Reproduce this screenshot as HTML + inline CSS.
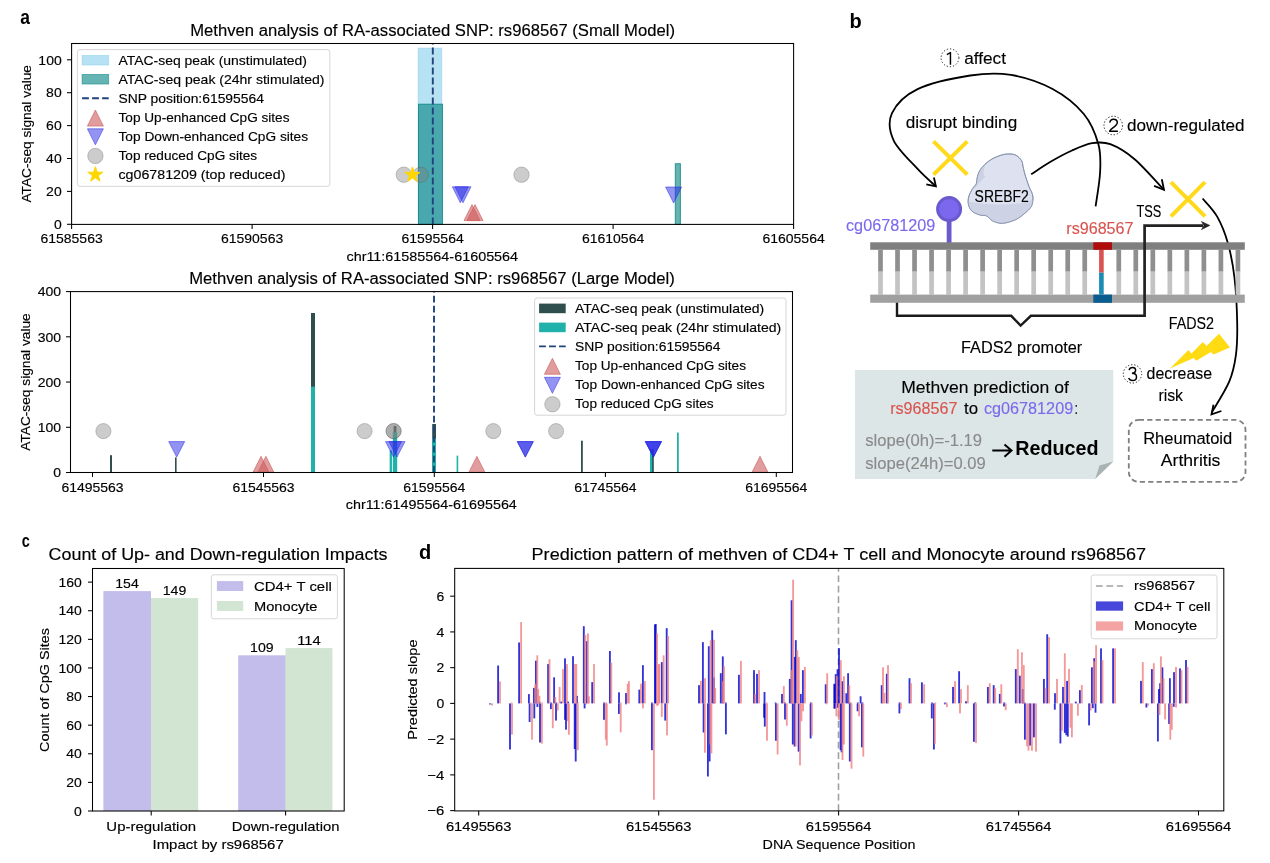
<!DOCTYPE html><html><head><meta charset="utf-8"><style>html,body{margin:0;padding:0;background:#fff;}svg{display:block;}text{font-family:"Liberation Sans",sans-serif;} svg{will-change:transform;}</style></head><body>
<svg width="1270" height="863" viewBox="0 0 1270 863">
<rect x="0" y="0" width="1270" height="863" fill="#fff"/>
<text x="20.20" y="23.60" font-size="20" textLength="9.70" lengthAdjust="spacingAndGlyphs" font-weight="bold" >a</text>
<text x="432.60" y="36.10" font-size="16" stroke="#000" stroke-width="0.15" text-anchor="middle" textLength="484.80" lengthAdjust="spacingAndGlyphs" >Methven analysis of RA-associated SNP: rs968567 (Small Model)</text>
<rect x="418.10" y="48.10" width="23.70" height="176.30" fill="rgba(135,206,235,0.6)" stroke="rgba(135,206,235,0.6)" stroke-width="0.8"/>
<rect x="418.50" y="104.20" width="24.00" height="120.20" fill="rgba(0,128,128,0.6)" stroke="rgba(0,128,128,0.75)" stroke-width="1"/>
<rect x="675.30" y="163.70" width="5.10" height="60.70" fill="rgba(0,128,128,0.6)" stroke="rgba(0,128,128,0.75)" stroke-width="1"/>
<line x1="432.80" y1="224.40" x2="432.80" y2="43.50" stroke="#22427c" stroke-width="1.9" stroke-dasharray="6.8 3.2"/>
<circle cx="403.80" cy="174.70" r="7.70" fill="rgba(128,128,128,0.4)" stroke="rgba(90,90,90,0.4)" stroke-width="0.8"/>
<circle cx="420.70" cy="174.70" r="7.70" fill="rgba(128,128,128,0.4)" stroke="rgba(90,90,90,0.4)" stroke-width="0.8"/>
<circle cx="521.50" cy="174.70" r="7.70" fill="rgba(128,128,128,0.4)" stroke="rgba(90,90,90,0.4)" stroke-width="0.8"/>
<polygon points="412.40,166.90 414.20,172.43 420.01,172.43 415.31,175.84 417.10,181.37 412.40,177.96 407.70,181.37 409.49,175.84 404.79,172.43 410.60,172.43" fill="#ffd700" stroke="#ffd700" stroke-width="1" stroke-linejoin="miter"/>
<polygon points="452.30,186.80 468.30,186.80 460.30,202.80" fill="rgba(40,40,230,0.5)" stroke="rgba(40,40,230,0.5)" stroke-width="1"/>
<polygon points="455.00,186.80 471.00,186.80 463.00,202.80" fill="rgba(40,40,230,0.5)" stroke="rgba(40,40,230,0.5)" stroke-width="1"/>
<polygon points="665.60,187.00 681.60,187.00 673.60,203.00" fill="rgba(40,40,230,0.5)" stroke="rgba(40,40,230,0.5)" stroke-width="1"/>
<polygon points="472.00,204.60 464.00,220.60 480.00,220.60" fill="rgba(205,92,92,0.6)" stroke="rgba(205,92,92,0.6)" stroke-width="1"/>
<polygon points="475.00,204.60 467.00,220.60 483.00,220.60" fill="rgba(205,92,92,0.6)" stroke="rgba(205,92,92,0.6)" stroke-width="1"/>
<rect x="71.6" y="43.5" width="722.0" height="180.9" fill="none" stroke="#000" stroke-width="1.05"/>
<line x1="67.00" y1="224.30" x2="71.60" y2="224.30" stroke="#000" stroke-width="1.05" />
<text x="61.70" y="229.00" font-size="13.5" stroke="#000" stroke-width="0.15" text-anchor="end" textLength="7.78" lengthAdjust="spacingAndGlyphs" >0</text>
<line x1="67.00" y1="191.40" x2="71.60" y2="191.40" stroke="#000" stroke-width="1.05" />
<text x="61.70" y="196.10" font-size="13.5" stroke="#000" stroke-width="0.15" text-anchor="end" textLength="15.56" lengthAdjust="spacingAndGlyphs" >20</text>
<line x1="67.00" y1="158.50" x2="71.60" y2="158.50" stroke="#000" stroke-width="1.05" />
<text x="61.70" y="163.20" font-size="13.5" stroke="#000" stroke-width="0.15" text-anchor="end" textLength="15.56" lengthAdjust="spacingAndGlyphs" >40</text>
<line x1="67.00" y1="125.60" x2="71.60" y2="125.60" stroke="#000" stroke-width="1.05" />
<text x="61.70" y="130.30" font-size="13.5" stroke="#000" stroke-width="0.15" text-anchor="end" textLength="15.56" lengthAdjust="spacingAndGlyphs" >60</text>
<line x1="67.00" y1="92.70" x2="71.60" y2="92.70" stroke="#000" stroke-width="1.05" />
<text x="61.70" y="97.40" font-size="13.5" stroke="#000" stroke-width="0.15" text-anchor="end" textLength="15.56" lengthAdjust="spacingAndGlyphs" >80</text>
<line x1="67.00" y1="59.80" x2="71.60" y2="59.80" stroke="#000" stroke-width="1.05" />
<text x="61.70" y="64.50" font-size="13.5" stroke="#000" stroke-width="0.15" text-anchor="end" textLength="23.34" lengthAdjust="spacingAndGlyphs" >100</text>
<line x1="71.60" y1="224.40" x2="71.60" y2="228.90" stroke="#000" stroke-width="1.05" />
<text x="71.60" y="243.20" font-size="13.5" stroke="#000" stroke-width="0.15" text-anchor="middle" textLength="62.20" lengthAdjust="spacingAndGlyphs" >61585563</text>
<line x1="252.10" y1="224.40" x2="252.10" y2="228.90" stroke="#000" stroke-width="1.05" />
<text x="252.10" y="243.20" font-size="13.5" stroke="#000" stroke-width="0.15" text-anchor="middle" textLength="62.20" lengthAdjust="spacingAndGlyphs" >61590563</text>
<line x1="432.60" y1="224.40" x2="432.60" y2="228.90" stroke="#000" stroke-width="1.05" />
<text x="432.60" y="243.20" font-size="13.5" stroke="#000" stroke-width="0.15" text-anchor="middle" textLength="62.20" lengthAdjust="spacingAndGlyphs" >61595564</text>
<line x1="613.10" y1="224.40" x2="613.10" y2="228.90" stroke="#000" stroke-width="1.05" />
<text x="613.10" y="243.20" font-size="13.5" stroke="#000" stroke-width="0.15" text-anchor="middle" textLength="62.20" lengthAdjust="spacingAndGlyphs" >61610564</text>
<line x1="793.60" y1="224.40" x2="793.60" y2="228.90" stroke="#000" stroke-width="1.05" />
<text x="793.60" y="243.20" font-size="13.5" stroke="#000" stroke-width="0.15" text-anchor="middle" textLength="62.20" lengthAdjust="spacingAndGlyphs" >61605564</text>
<text x="432.30" y="260.70" font-size="13.5" stroke="#000" stroke-width="0.15" text-anchor="middle" textLength="171.70" lengthAdjust="spacingAndGlyphs" >chr11:61585564-61605564</text>
<text x="0" y="0" font-size="13" text-anchor="middle" transform="translate(31.30,133.80) rotate(-90)" stroke="#000" stroke-width="0.15" textLength="137.50" lengthAdjust="spacingAndGlyphs">ATAC-seq signal value</text>
<rect x="77.4" y="49.6" width="252.4" height="136.7" rx="2.5" fill="rgba(255,255,255,0.8)" stroke="#d6d6d6" stroke-width="1"/>
<rect x="82.10" y="55.40" width="26.60" height="9.60" fill="rgba(135,206,235,0.6)" stroke="rgba(135,206,235,0.6)" stroke-width="0.8"/>
<rect x="82.10" y="74.43" width="26.60" height="9.60" fill="rgba(0,128,128,0.6)" stroke="rgba(0,128,128,0.6)" stroke-width="0.8"/>
<line x1="82.10" y1="98.26" x2="108.70" y2="98.26" stroke="#22427c" stroke-width="1.9" stroke-dasharray="6.8 3.2"/>
<polygon points="95.40,110.09 87.40,126.09 103.40,126.09" fill="rgba(205,92,92,0.6)" stroke="rgba(205,92,92,0.6)" stroke-width="1"/>
<polygon points="87.40,128.82 103.40,128.82 95.40,144.82" fill="rgba(40,40,230,0.5)" stroke="rgba(40,40,230,0.5)" stroke-width="1"/>
<circle cx="95.40" cy="155.95" r="7.70" fill="rgba(128,128,128,0.4)" stroke="rgba(90,90,90,0.4)" stroke-width="0.8"/>
<polygon points="95.40,166.68 97.20,172.21 103.01,172.21 98.31,175.62 100.10,181.15 95.40,177.74 90.70,181.15 92.49,175.62 87.79,172.21 93.60,172.21" fill="#ffd700" stroke="#ffd700" stroke-width="1" stroke-linejoin="miter"/>
<text x="118.50" y="64.80" font-size="13.5" stroke="#000" stroke-width="0.15" textLength="188.50" lengthAdjust="spacingAndGlyphs" >ATAC-seq peak (unstimulated)</text>
<text x="118.50" y="83.83" font-size="13.5" stroke="#000" stroke-width="0.15" textLength="206.00" lengthAdjust="spacingAndGlyphs" >ATAC-seq peak (24hr stimulated)</text>
<text x="118.50" y="102.86" font-size="13.5" stroke="#000" stroke-width="0.15" textLength="145.40" lengthAdjust="spacingAndGlyphs" >SNP position:61595564</text>
<text x="118.50" y="121.89" font-size="13.5" stroke="#000" stroke-width="0.15" textLength="171.00" lengthAdjust="spacingAndGlyphs" >Top Up-enhanced CpG sites</text>
<text x="118.50" y="140.92" font-size="13.5" stroke="#000" stroke-width="0.15" textLength="189.60" lengthAdjust="spacingAndGlyphs" >Top Down-enhanced CpG sites</text>
<text x="118.50" y="159.95" font-size="13.5" stroke="#000" stroke-width="0.15" textLength="138.60" lengthAdjust="spacingAndGlyphs" >Top reduced CpG sites</text>
<text x="118.50" y="178.98" font-size="13.5" stroke="#000" stroke-width="0.15" textLength="166.90" lengthAdjust="spacingAndGlyphs" >cg06781209 (top reduced)</text>
<text x="432.00" y="283.50" font-size="16" stroke="#000" stroke-width="0.15" text-anchor="middle" textLength="485.70" lengthAdjust="spacingAndGlyphs" >Methven analysis of RA-associated SNP: rs968567 (Large Model)</text>
<rect x="110.00" y="455.20" width="2.00" height="17.30" fill="#2f4f4f" />
<rect x="175.00" y="457.40" width="1.60" height="15.10" fill="#2f4f4f" />
<rect x="311.00" y="313.00" width="4.00" height="159.50" fill="#2f4f4f" />
<rect x="311.00" y="386.70" width="4.00" height="85.80" fill="#20b2aa" />
<rect x="389.65" y="450.50" width="2.30" height="22.00" fill="#20b2aa" />
<rect x="393.60" y="426.00" width="2.80" height="46.50" fill="#2f4f4f" />
<rect x="392.80" y="431.90" width="4.40" height="40.60" fill="#20b2aa" />
<rect x="432.20" y="424.00" width="3.80" height="48.50" fill="#2f4f4f" />
<rect x="432.20" y="438.60" width="3.80" height="33.90" fill="#20b2aa" />
<rect x="456.60" y="455.60" width="1.60" height="16.90" fill="#20b2aa" />
<rect x="581.00" y="440.70" width="1.80" height="31.80" fill="#2f4f4f" />
<rect x="650.00" y="449.00" width="3.60" height="23.50" fill="#20b2aa" />
<rect x="652.15" y="449.00" width="1.50" height="23.50" fill="#2f4f4f" />
<rect x="677.00" y="432.60" width="1.80" height="39.90" fill="#20b2aa" />
<line x1="434.00" y1="472.50" x2="434.00" y2="291.60" stroke="#22427c" stroke-width="1.9" stroke-dasharray="6.8 3.2"/>
<circle cx="103.40" cy="431.10" r="7.60" fill="rgba(128,128,128,0.4)" stroke="rgba(90,90,90,0.4)" stroke-width="0.8"/>
<circle cx="364.60" cy="431.10" r="7.60" fill="rgba(128,128,128,0.4)" stroke="rgba(90,90,90,0.4)" stroke-width="0.8"/>
<circle cx="393.60" cy="431.10" r="7.60" fill="rgba(128,128,128,0.4)" stroke="rgba(90,90,90,0.4)" stroke-width="0.8"/>
<circle cx="393.60" cy="431.10" r="7.60" fill="rgba(128,128,128,0.4)" stroke="rgba(90,90,90,0.4)" stroke-width="0.8"/>
<circle cx="493.30" cy="431.10" r="7.60" fill="rgba(128,128,128,0.4)" stroke="rgba(90,90,90,0.4)" stroke-width="0.8"/>
<circle cx="556.10" cy="431.10" r="7.60" fill="rgba(128,128,128,0.4)" stroke="rgba(90,90,90,0.4)" stroke-width="0.8"/>
<polygon points="168.70,441.60 184.70,441.60 176.70,457.10" fill="rgba(40,40,230,0.5)" stroke="rgba(40,40,230,0.5)" stroke-width="1"/>
<polygon points="385.50,441.60 401.50,441.60 393.50,457.10" fill="rgba(40,40,230,0.5)" stroke="rgba(40,40,230,0.5)" stroke-width="1"/>
<polygon points="389.00,441.60 405.00,441.60 397.00,457.10" fill="rgba(40,40,230,0.5)" stroke="rgba(40,40,230,0.5)" stroke-width="1"/>
<polygon points="517.30,441.60 533.30,441.60 525.30,457.10" fill="rgba(40,40,230,0.5)" stroke="rgba(40,40,230,0.5)" stroke-width="1"/>
<polygon points="517.30,441.60 533.30,441.60 525.30,457.10" fill="rgba(40,40,230,0.5)" stroke="rgba(40,40,230,0.5)" stroke-width="1"/>
<polygon points="645.40,441.60 661.40,441.60 653.40,457.10" fill="rgba(40,40,230,0.5)" stroke="rgba(40,40,230,0.5)" stroke-width="1"/>
<polygon points="645.40,441.60 661.40,441.60 653.40,457.10" fill="rgba(40,40,230,0.5)" stroke="rgba(40,40,230,0.5)" stroke-width="1"/>
<polygon points="645.40,441.60 661.40,441.60 653.40,457.10" fill="rgba(40,40,230,0.5)" stroke="rgba(40,40,230,0.5)" stroke-width="1"/>
<polygon points="265.90,456.30 257.90,472.30 273.90,472.30" fill="rgba(205,92,92,0.6)" stroke="rgba(205,92,92,0.6)" stroke-width="1"/>
<polygon points="261.00,456.30 253.00,472.30 269.00,472.30" fill="rgba(205,92,92,0.6)" stroke="rgba(205,92,92,0.6)" stroke-width="1"/>
<polygon points="476.90,456.30 468.90,472.30 484.90,472.30" fill="rgba(205,92,92,0.6)" stroke="rgba(205,92,92,0.6)" stroke-width="1"/>
<polygon points="760.00,456.30 752.00,472.30 768.00,472.30" fill="rgba(205,92,92,0.6)" stroke="rgba(205,92,92,0.6)" stroke-width="1"/>
<rect x="70.5" y="291.6" width="722.0" height="180.89999999999998" fill="none" stroke="#000" stroke-width="1.05"/>
<line x1="66.00" y1="472.50" x2="70.50" y2="472.50" stroke="#000" stroke-width="1.05" />
<text x="61.00" y="477.20" font-size="13.5" stroke="#000" stroke-width="0.15" text-anchor="end" textLength="7.78" lengthAdjust="spacingAndGlyphs" >0</text>
<line x1="66.00" y1="427.27" x2="70.50" y2="427.27" stroke="#000" stroke-width="1.05" />
<text x="61.00" y="431.97" font-size="13.5" stroke="#000" stroke-width="0.15" text-anchor="end" textLength="23.34" lengthAdjust="spacingAndGlyphs" >100</text>
<line x1="66.00" y1="382.04" x2="70.50" y2="382.04" stroke="#000" stroke-width="1.05" />
<text x="61.00" y="386.74" font-size="13.5" stroke="#000" stroke-width="0.15" text-anchor="end" textLength="23.34" lengthAdjust="spacingAndGlyphs" >200</text>
<line x1="66.00" y1="336.81" x2="70.50" y2="336.81" stroke="#000" stroke-width="1.05" />
<text x="61.00" y="341.51" font-size="13.5" stroke="#000" stroke-width="0.15" text-anchor="end" textLength="23.34" lengthAdjust="spacingAndGlyphs" >300</text>
<line x1="66.00" y1="291.58" x2="70.50" y2="291.58" stroke="#000" stroke-width="1.05" />
<text x="61.00" y="296.28" font-size="13.5" stroke="#000" stroke-width="0.15" text-anchor="end" textLength="23.34" lengthAdjust="spacingAndGlyphs" >400</text>
<line x1="92.50" y1="472.50" x2="92.50" y2="477.00" stroke="#000" stroke-width="1.05" />
<text x="92.50" y="491.50" font-size="13.5" stroke="#000" stroke-width="0.15" text-anchor="middle" textLength="62.20" lengthAdjust="spacingAndGlyphs" >61495563</text>
<line x1="263.50" y1="472.50" x2="263.50" y2="477.00" stroke="#000" stroke-width="1.05" />
<text x="263.50" y="491.50" font-size="13.5" stroke="#000" stroke-width="0.15" text-anchor="middle" textLength="62.20" lengthAdjust="spacingAndGlyphs" >61545563</text>
<line x1="434.30" y1="472.50" x2="434.30" y2="477.00" stroke="#000" stroke-width="1.05" />
<text x="434.30" y="491.50" font-size="13.5" stroke="#000" stroke-width="0.15" text-anchor="middle" textLength="62.20" lengthAdjust="spacingAndGlyphs" >61595564</text>
<line x1="605.40" y1="472.50" x2="605.40" y2="477.00" stroke="#000" stroke-width="1.05" />
<text x="605.40" y="491.50" font-size="13.5" stroke="#000" stroke-width="0.15" text-anchor="middle" textLength="62.20" lengthAdjust="spacingAndGlyphs" >61745564</text>
<line x1="776.30" y1="472.50" x2="776.30" y2="477.00" stroke="#000" stroke-width="1.05" />
<text x="776.30" y="491.50" font-size="13.5" stroke="#000" stroke-width="0.15" text-anchor="middle" textLength="62.20" lengthAdjust="spacingAndGlyphs" >61695564</text>
<text x="431.30" y="509.40" font-size="13.5" stroke="#000" stroke-width="0.15" text-anchor="middle" textLength="171.10" lengthAdjust="spacingAndGlyphs" >chr11:61495564-61695564</text>
<text x="0" y="0" font-size="13" text-anchor="middle" transform="translate(30.30,382.00) rotate(-90)" stroke="#000" stroke-width="0.15" textLength="137.50" lengthAdjust="spacingAndGlyphs">ATAC-seq signal value</text>
<rect x="534.6" y="298" width="251.4" height="117.2" rx="2.5" fill="rgba(255,255,255,0.8)" stroke="#d6d6d6" stroke-width="1"/>
<rect x="539.10" y="303.60" width="26.60" height="9.60" fill="#2f4f4f" />
<rect x="539.10" y="322.60" width="26.60" height="9.60" fill="#20b2aa" />
<line x1="539.10" y1="346.40" x2="565.70" y2="346.40" stroke="#22427c" stroke-width="1.9" stroke-dasharray="6.8 3.2"/>
<polygon points="552.40,358.30 544.40,374.30 560.40,374.30" fill="rgba(205,92,92,0.6)" stroke="rgba(205,92,92,0.6)" stroke-width="1"/>
<polygon points="544.40,377.30 560.40,377.30 552.40,393.30" fill="rgba(40,40,230,0.5)" stroke="rgba(40,40,230,0.5)" stroke-width="1"/>
<circle cx="552.40" cy="404.30" r="7.70" fill="rgba(128,128,128,0.4)" stroke="rgba(90,90,90,0.4)" stroke-width="0.8"/>
<text x="575.00" y="313.00" font-size="13.5" stroke="#000" stroke-width="0.15" textLength="189.10" lengthAdjust="spacingAndGlyphs" >ATAC-seq peak (unstimulated)</text>
<text x="575.00" y="332.00" font-size="13.5" stroke="#000" stroke-width="0.15" textLength="206.20" lengthAdjust="spacingAndGlyphs" >ATAC-seq peak (24hr stimulated)</text>
<text x="575.00" y="351.00" font-size="13.5" stroke="#000" stroke-width="0.15" textLength="145.40" lengthAdjust="spacingAndGlyphs" >SNP position:61595564</text>
<text x="575.00" y="370.00" font-size="13.5" stroke="#000" stroke-width="0.15" textLength="171.00" lengthAdjust="spacingAndGlyphs" >Top Up-enhanced CpG sites</text>
<text x="575.00" y="389.00" font-size="13.5" stroke="#000" stroke-width="0.15" textLength="189.60" lengthAdjust="spacingAndGlyphs" >Top Down-enhanced CpG sites</text>
<text x="575.00" y="408.00" font-size="13.5" stroke="#000" stroke-width="0.15" textLength="138.60" lengthAdjust="spacingAndGlyphs" >Top reduced CpG sites</text>
<text x="849.60" y="27.50" font-size="20" font-weight="bold" >b</text>
<circle cx="950.00" cy="57.80" r="8.90" fill="none" stroke="#222" stroke-width="1.0" stroke-dasharray="1.3 1.9"/>
<path d="M946.9,54.6 L950.45,52.5 L950.45,64.7" fill="none" stroke="#000" stroke-width="1.45" stroke-linejoin="round"/>
<circle cx="1113.25" cy="125.50" r="9.30" fill="none" stroke="#222" stroke-width="1.0" stroke-dasharray="1.3 1.9"/>
<path d="M1109.8,122.6 C1110.2,120.2 1111.8,119.2 1113.5,119.2 C1115.8,119.2 1117.3,120.5 1117.3,122.5 C1117.3,124.6 1115.5,126 1113.2,127.6 C1111.2,129 1109.9,130.2 1109.6,131.2 L1117.9,131.2" fill="none" stroke="#000" stroke-width="1.45" stroke-linejoin="round"/>
<circle cx="1132.50" cy="373.90" r="9.20" fill="none" stroke="#222" stroke-width="1.0" stroke-dasharray="1.3 1.9"/>
<path d="M1129.1,370.1 C1129.6,368.2 1131,367.4 1132.5,367.4 C1134.4,367.4 1135.6,368.4 1135.6,370.1 C1135.6,371.9 1134.3,373.3 1131.9,373.3 M1131.9,373.3 C1134.9,373.3 1136.5,374.8 1136.5,376.9 C1136.5,379.3 1134.6,380.5 1132.4,380.5 C1130.6,380.5 1129.3,379.6 1128.7,378.1" fill="none" stroke="#000" stroke-width="1.45" stroke-linejoin="round"/>
<text x="964.20" y="64.30" font-size="16" stroke="#000" stroke-width="0.12" textLength="41.80" lengthAdjust="spacingAndGlyphs" >affect</text>
<text x="1126.90" y="130.90" font-size="16" stroke="#000" stroke-width="0.12" textLength="117.70" lengthAdjust="spacingAndGlyphs" >down-regulated</text>
<text x="1146.60" y="379.10" font-size="16" stroke="#000" stroke-width="0.12" textLength="65.50" lengthAdjust="spacingAndGlyphs" >decrease</text>
<text x="1158.40" y="401.30" font-size="16" stroke="#000" stroke-width="0.12" textLength="24.60" lengthAdjust="spacingAndGlyphs" >risk</text>
<text x="905.70" y="127.70" font-size="16" stroke="#000" stroke-width="0.12" textLength="111.50" lengthAdjust="spacingAndGlyphs" >disrupt binding</text>
<path d="M1095.60,206.40 C1096.35,200.70 1099.63,182.57 1100.10,172.20 C1100.57,161.83 1101.12,153.90 1098.40,144.20 C1095.68,134.50 1091.43,123.20 1083.80,114.00 C1076.17,104.80 1064.75,95.52 1052.60,89.00 C1040.45,82.48 1024.62,77.15 1010.90,74.90 C997.18,72.65 985.85,73.13 970.30,75.50 C954.75,77.87 930.65,82.82 917.60,89.10 C904.55,95.38 896.00,104.67 892.00,113.20 C888.00,121.73 889.33,131.02 893.60,140.30 C897.87,149.58 910.58,161.25 917.60,168.90 C924.62,176.55 932.68,183.32 935.70,186.20" fill="none" stroke="#000" stroke-width="1.8"/>
<path d="M1031.20,174.30 C1034.35,172.25 1043.30,165.97 1050.10,162.00 C1056.90,158.03 1065.02,153.63 1072.00,150.50 C1078.98,147.37 1085.62,144.25 1092.00,143.20 C1098.38,142.15 1103.20,141.53 1110.30,144.20 C1117.40,146.87 1125.68,151.63 1134.60,159.20 C1143.52,166.77 1158.93,184.53 1163.80,189.60" fill="none" stroke="#000" stroke-width="1.8"/>
<path d="M1202.60,198.50 C1205.03,201.52 1212.98,209.15 1217.20,216.60 C1221.42,224.05 1225.02,232.98 1227.90,243.20 C1230.78,253.42 1232.95,264.58 1234.50,277.90 C1236.05,291.22 1236.97,310.23 1237.20,323.10 C1237.43,335.97 1237.23,345.33 1235.90,355.10 C1234.57,364.87 1233.20,372.17 1229.20,381.70 C1225.20,391.23 1214.78,407.20 1211.90,412.30" fill="none" stroke="#000" stroke-width="1.8"/>
<path d="M926.3,184.3 L935.9,186.4 L933.9,177.5" fill="none" stroke="#000" stroke-width="1.8"/>
<path d="M1154.1,185.8 L1164,189.8 L1161.8,179.3" fill="none" stroke="#000" stroke-width="1.8"/>
<path d="M1221.4,411 L1211.5,414.3 L1213.5,404.7" fill="none" stroke="#000" stroke-width="1.8"/>
<line x1="933.50" y1="141.30" x2="967.30" y2="174.70" stroke="#ffd91a" stroke-width="4.0" />
<line x1="967.30" y1="141.30" x2="933.50" y2="174.70" stroke="#ffd91a" stroke-width="4.0" />
<line x1="1170.90" y1="182.20" x2="1205.00" y2="216.30" stroke="#ffd91a" stroke-width="4.0" />
<line x1="1205.00" y1="182.20" x2="1170.90" y2="216.30" stroke="#ffd91a" stroke-width="4.0" />
<path d="M1004.32,154.36 C1008.10,153.70 1012.28,153.78 1015.16,154.85 C1018.03,155.92 1020.24,158.79 1021.56,160.76 C1022.87,162.73 1022.46,164.37 1023.04,166.67 C1023.61,168.97 1024.02,171.26 1025.01,174.55 C1025.99,177.83 1027.71,183.08 1028.95,186.37 C1030.18,189.65 1031.74,191.95 1032.39,194.25 C1033.05,196.54 1033.13,198.02 1032.88,200.16 C1032.64,202.29 1032.39,204.75 1030.92,207.05 C1029.44,209.35 1026.65,211.81 1024.02,213.95 C1021.39,216.08 1018.77,218.30 1015.16,219.85 C1011.54,221.41 1006.13,223.14 1002.35,223.30 C998.58,223.47 995.13,222.07 992.50,220.84 C989.88,219.61 988.73,216.90 986.59,215.92 C984.46,214.93 982.16,215.75 979.70,214.93 C977.24,214.11 973.71,212.80 971.82,210.99 C969.93,209.18 968.86,206.56 968.37,204.10 C967.88,201.63 968.13,198.84 968.86,196.22 C969.60,193.59 971.57,190.39 972.80,188.34 C974.04,186.29 975.51,185.71 976.25,183.90 C976.99,182.10 976.66,179.72 977.24,177.50 C977.81,175.29 978.47,172.74 979.70,170.61 C980.93,168.47 982.49,166.67 984.62,164.70 C986.76,162.73 989.22,160.51 992.50,158.79 C995.79,157.07 1000.55,155.01 1004.32,154.36 Z" fill="#dee2f0" stroke="#7f8eaa" stroke-width="0.8"/>
<clipPath id="blobclip"><path d="M1004.32,154.36 C1008.10,153.70 1012.28,153.78 1015.16,154.85 C1018.03,155.92 1020.24,158.79 1021.56,160.76 C1022.87,162.73 1022.46,164.37 1023.04,166.67 C1023.61,168.97 1024.02,171.26 1025.01,174.55 C1025.99,177.83 1027.71,183.08 1028.95,186.37 C1030.18,189.65 1031.74,191.95 1032.39,194.25 C1033.05,196.54 1033.13,198.02 1032.88,200.16 C1032.64,202.29 1032.39,204.75 1030.92,207.05 C1029.44,209.35 1026.65,211.81 1024.02,213.95 C1021.39,216.08 1018.77,218.30 1015.16,219.85 C1011.54,221.41 1006.13,223.14 1002.35,223.30 C998.58,223.47 995.13,222.07 992.50,220.84 C989.88,219.61 988.73,216.90 986.59,215.92 C984.46,214.93 982.16,215.75 979.70,214.93 C977.24,214.11 973.71,212.80 971.82,210.99 C969.93,209.18 968.86,206.56 968.37,204.10 C967.88,201.63 968.13,198.84 968.86,196.22 C969.60,193.59 971.57,190.39 972.80,188.34 C974.04,186.29 975.51,185.71 976.25,183.90 C976.99,182.10 976.66,179.72 977.24,177.50 C977.81,175.29 978.47,172.74 979.70,170.61 C980.93,168.47 982.49,166.67 984.62,164.70 C986.76,162.73 989.22,160.51 992.50,158.79 C995.79,157.07 1000.55,155.01 1004.32,154.36 Z"/></clipPath>
<g clip-path="url(#blobclip)">
<path d="M960,200.2 C975,203 990,205 1004,204.5 C1018,204 1028,202 1040,197 L1040,230 L960,230 Z" fill="#cdd3e5"/>
<path d="M960,160 L985,166 C983,172 983,176 985.5,176.5 C981,181 978,185 974,189 L960,195 Z" fill="#ccd2e4"/>
</g>
<path d="M1004.32,154.36 C1008.10,153.70 1012.28,153.78 1015.16,154.85 C1018.03,155.92 1020.24,158.79 1021.56,160.76 C1022.87,162.73 1022.46,164.37 1023.04,166.67 C1023.61,168.97 1024.02,171.26 1025.01,174.55 C1025.99,177.83 1027.71,183.08 1028.95,186.37 C1030.18,189.65 1031.74,191.95 1032.39,194.25 C1033.05,196.54 1033.13,198.02 1032.88,200.16 C1032.64,202.29 1032.39,204.75 1030.92,207.05 C1029.44,209.35 1026.65,211.81 1024.02,213.95 C1021.39,216.08 1018.77,218.30 1015.16,219.85 C1011.54,221.41 1006.13,223.14 1002.35,223.30 C998.58,223.47 995.13,222.07 992.50,220.84 C989.88,219.61 988.73,216.90 986.59,215.92 C984.46,214.93 982.16,215.75 979.70,214.93 C977.24,214.11 973.71,212.80 971.82,210.99 C969.93,209.18 968.86,206.56 968.37,204.10 C967.88,201.63 968.13,198.84 968.86,196.22 C969.60,193.59 971.57,190.39 972.80,188.34 C974.04,186.29 975.51,185.71 976.25,183.90 C976.99,182.10 976.66,179.72 977.24,177.50 C977.81,175.29 978.47,172.74 979.70,170.61 C980.93,168.47 982.49,166.67 984.62,164.70 C986.76,162.73 989.22,160.51 992.50,158.79 C995.79,157.07 1000.55,155.01 1004.32,154.36 Z" fill="none" stroke="#7f8eaa" stroke-width="0.8"/>
<text x="974.60" y="201.70" font-size="16" stroke="#000" stroke-width="0.12" textLength="54.20" lengthAdjust="spacingAndGlyphs" >SREBF2</text>
<line x1="949.1" y1="220" x2="949.1" y2="243" stroke="#6a5acd" stroke-width="4.8"/>
<circle cx="949.10" cy="209.10" r="11.50" fill="#7b68ee" stroke="#6a5acd" stroke-width="3.0"/>
<text x="846.00" y="231.30" font-size="16" stroke="#7b68ee" stroke-width="0.12" fill="#7b68ee" textLength="89.30" lengthAdjust="spacingAndGlyphs" >cg06781209</text>
<text x="1066.30" y="233.90" font-size="16" stroke="#d9534f" stroke-width="0.12" fill="#d9534f" textLength="67.20" lengthAdjust="spacingAndGlyphs" >rs968567</text>
<text x="1136.40" y="216.70" font-size="16" stroke="#000" stroke-width="0.12" textLength="24.80" lengthAdjust="spacingAndGlyphs" >TSS</text>
<rect x="870.20" y="242.30" width="374.60" height="7.50" fill="#7f7f7f" />
<rect x="878.15" y="249.80" width="4.70" height="21.90" fill="#8f8f8f" />
<rect x="878.15" y="271.70" width="4.70" height="22.90" fill="#c3c3c3" />
<rect x="895.17" y="249.80" width="4.70" height="21.90" fill="#8f8f8f" />
<rect x="895.17" y="271.70" width="4.70" height="22.90" fill="#c3c3c3" />
<rect x="912.19" y="249.80" width="4.70" height="21.90" fill="#8f8f8f" />
<rect x="912.19" y="271.70" width="4.70" height="22.90" fill="#c3c3c3" />
<rect x="929.21" y="249.80" width="4.70" height="21.90" fill="#8f8f8f" />
<rect x="929.21" y="271.70" width="4.70" height="22.90" fill="#c3c3c3" />
<rect x="946.23" y="249.80" width="4.70" height="21.90" fill="#8f8f8f" />
<rect x="946.23" y="271.70" width="4.70" height="22.90" fill="#c3c3c3" />
<rect x="963.25" y="249.80" width="4.70" height="21.90" fill="#8f8f8f" />
<rect x="963.25" y="271.70" width="4.70" height="22.90" fill="#c3c3c3" />
<rect x="980.27" y="249.80" width="4.70" height="21.90" fill="#8f8f8f" />
<rect x="980.27" y="271.70" width="4.70" height="22.90" fill="#c3c3c3" />
<rect x="997.29" y="249.80" width="4.70" height="21.90" fill="#8f8f8f" />
<rect x="997.29" y="271.70" width="4.70" height="22.90" fill="#c3c3c3" />
<rect x="1014.31" y="249.80" width="4.70" height="21.90" fill="#8f8f8f" />
<rect x="1014.31" y="271.70" width="4.70" height="22.90" fill="#c3c3c3" />
<rect x="1031.33" y="249.80" width="4.70" height="21.90" fill="#8f8f8f" />
<rect x="1031.33" y="271.70" width="4.70" height="22.90" fill="#c3c3c3" />
<rect x="1048.35" y="249.80" width="4.70" height="21.90" fill="#8f8f8f" />
<rect x="1048.35" y="271.70" width="4.70" height="22.90" fill="#c3c3c3" />
<rect x="1065.37" y="249.80" width="4.70" height="21.90" fill="#8f8f8f" />
<rect x="1065.37" y="271.70" width="4.70" height="22.90" fill="#c3c3c3" />
<rect x="1082.39" y="249.80" width="4.70" height="21.90" fill="#8f8f8f" />
<rect x="1082.39" y="271.70" width="4.70" height="22.90" fill="#c3c3c3" />
<rect x="1099.10" y="249.80" width="4.60" height="22.90" fill="#db5252" />
<rect x="1099.10" y="272.70" width="4.60" height="21.90" fill="#1a8cb4" />
<rect x="1116.43" y="249.80" width="4.70" height="21.90" fill="#8f8f8f" />
<rect x="1116.43" y="271.70" width="4.70" height="22.90" fill="#c3c3c3" />
<rect x="1133.45" y="249.80" width="4.70" height="21.90" fill="#8f8f8f" />
<rect x="1133.45" y="271.70" width="4.70" height="22.90" fill="#c3c3c3" />
<rect x="1150.47" y="249.80" width="4.70" height="21.90" fill="#8f8f8f" />
<rect x="1150.47" y="271.70" width="4.70" height="22.90" fill="#c3c3c3" />
<rect x="1167.49" y="249.80" width="4.70" height="21.90" fill="#8f8f8f" />
<rect x="1167.49" y="271.70" width="4.70" height="22.90" fill="#c3c3c3" />
<rect x="1184.51" y="249.80" width="4.70" height="21.90" fill="#8f8f8f" />
<rect x="1184.51" y="271.70" width="4.70" height="22.90" fill="#c3c3c3" />
<rect x="1201.53" y="249.80" width="4.70" height="21.90" fill="#8f8f8f" />
<rect x="1201.53" y="271.70" width="4.70" height="22.90" fill="#c3c3c3" />
<rect x="1218.55" y="249.80" width="4.70" height="21.90" fill="#8f8f8f" />
<rect x="1218.55" y="271.70" width="4.70" height="22.90" fill="#c3c3c3" />
<rect x="1235.57" y="249.80" width="4.70" height="21.90" fill="#8f8f8f" />
<rect x="1235.57" y="271.70" width="4.70" height="22.90" fill="#c3c3c3" />
<rect x="870.20" y="294.60" width="374.60" height="8.20" fill="#a0a0a0" />
<rect x="1093.30" y="242.30" width="18.70" height="7.50" fill="#b00c0c" />
<rect x="1093.30" y="294.60" width="18.70" height="8.20" fill="#0b5c8f" />
<path d="M897,302.8 L897,315.8 L1011.2,315.8 L1020.6,325.6 L1030.9,315.8 L1144.6,315.8" fill="none" stroke="#1a1a1a" stroke-width="2.4" stroke-linejoin="miter"/>
<path d="M1144.6,317 L1144.6,225.6 L1203,225.6" fill="none" stroke="#222" stroke-width="2.7" stroke-linejoin="miter"/>
<polygon points="1209.8,225.4 1201.5,221.6 1203.9,225.5 1201.5,229.6" fill="#222" stroke="#222" stroke-width="0.6"/>
<text x="961.00" y="352.80" font-size="16" stroke="#000" stroke-width="0.12" textLength="121.20" lengthAdjust="spacingAndGlyphs" >FADS2 promoter</text>
<text x="1168.70" y="328.70" font-size="16" stroke="#000" stroke-width="0.12" textLength="45.30" lengthAdjust="spacingAndGlyphs" >FADS2</text>
<polygon points="1170,368.5 1188.4,350 1191.5,353.4 1202.8,342.1 1206.6,345.9 1219,333.8 1230,347.6 1213.5,354.5 1210.8,352 1196.4,360.8 1193.7,358" fill="#ffdb14"/>
<rect x="1128.8" y="419.9" width="116.7" height="62" rx="10" ry="10" fill="none" stroke="#7f7f7f" stroke-width="1.8" stroke-dasharray="5.2 3.2"/>
<text x="1143.20" y="443.60" font-size="16" stroke="#000" stroke-width="0.12" textLength="89.00" lengthAdjust="spacingAndGlyphs" >Rheumatoid</text>
<text x="1160.80" y="466.10" font-size="16" stroke="#000" stroke-width="0.12" textLength="59.60" lengthAdjust="spacingAndGlyphs" >Arthritis</text>
<polygon points="854.9,369.9 1113.3,369.9 1113.3,461.4 1095.2,479 854.9,479" fill="#dde6e6"/>
<polygon points="1113.3,461.4 1095.2,479 1099.5,465.5" fill="#a9b3b3"/>
<text x="901.20" y="392.60" font-size="16" stroke="#000" stroke-width="0.12" textLength="167.60" lengthAdjust="spacingAndGlyphs" >Methven prediction of</text>
<text x="890.20" y="414.00" font-size="16" stroke="#d9534f" stroke-width="0.12" fill="#d9534f" textLength="67.20" lengthAdjust="spacingAndGlyphs" >rs968567</text>
<text x="964.00" y="414.00" font-size="16" stroke="#000" stroke-width="0.12" textLength="14.00" lengthAdjust="spacingAndGlyphs" >to</text>
<text x="983.90" y="414.00" font-size="16" stroke="#7b68ee" stroke-width="0.12" fill="#7b68ee" textLength="89.30" lengthAdjust="spacingAndGlyphs" >cg06781209</text>
<text x="1074.50" y="414.00" font-size="16" stroke="#000" stroke-width="0.12" textLength="3.50" lengthAdjust="spacingAndGlyphs" >:</text>
<text x="865.30" y="446.40" font-size="16" stroke="#8a8a8a" stroke-width="0.12" fill="#8a8a8a" textLength="116.80" lengthAdjust="spacingAndGlyphs" >slope(0h)=-1.19</text>
<text x="865.30" y="468.50" font-size="16" stroke="#8a8a8a" stroke-width="0.12" fill="#8a8a8a" textLength="120.40" lengthAdjust="spacingAndGlyphs" >slope(24h)=0.09</text>
<path d="M992.3,450.6 L1011,450.6 M1004.5,444.5 L1011.5,450.6 L1004.5,456.7" fill="none" stroke="#000" stroke-width="2"/>
<text x="1015.20" y="455.20" font-size="20" textLength="83.30" lengthAdjust="spacingAndGlyphs" font-weight="bold" >Reduced</text>
<text x="21.70" y="547.40" font-size="18" textLength="8.10" lengthAdjust="spacingAndGlyphs" font-weight="bold" >c</text>
<text x="218.00" y="560.00" font-size="16" stroke="#000" stroke-width="0.15" text-anchor="middle" textLength="338.80" lengthAdjust="spacingAndGlyphs" >Count of Up- and Down-regulation Impacts</text>
<rect x="103.40" y="591.10" width="47.60" height="219.90" fill="rgba(106,90,205,0.4)" />
<rect x="151.00" y="598.10" width="47.20" height="212.90" fill="rgba(143,188,143,0.4)" />
<rect x="238.20" y="655.30" width="47.30" height="155.70" fill="rgba(106,90,205,0.4)" />
<rect x="285.50" y="648.10" width="46.90" height="162.90" fill="rgba(143,188,143,0.4)" />
<rect x="92.5" y="568.5" width="251.7" height="242.5" fill="none" stroke="#000" stroke-width="1.05"/>
<line x1="88.00" y1="811.00" x2="92.50" y2="811.00" stroke="#000" stroke-width="1.05" />
<text x="81.80" y="815.70" font-size="13.5" stroke="#000" stroke-width="0.15" text-anchor="end" textLength="7.78" lengthAdjust="spacingAndGlyphs" >0</text>
<line x1="88.00" y1="782.39" x2="92.50" y2="782.39" stroke="#000" stroke-width="1.05" />
<text x="81.80" y="787.09" font-size="13.5" stroke="#000" stroke-width="0.15" text-anchor="end" textLength="15.56" lengthAdjust="spacingAndGlyphs" >20</text>
<line x1="88.00" y1="753.78" x2="92.50" y2="753.78" stroke="#000" stroke-width="1.05" />
<text x="81.80" y="758.48" font-size="13.5" stroke="#000" stroke-width="0.15" text-anchor="end" textLength="15.56" lengthAdjust="spacingAndGlyphs" >40</text>
<line x1="88.00" y1="725.17" x2="92.50" y2="725.17" stroke="#000" stroke-width="1.05" />
<text x="81.80" y="729.87" font-size="13.5" stroke="#000" stroke-width="0.15" text-anchor="end" textLength="15.56" lengthAdjust="spacingAndGlyphs" >60</text>
<line x1="88.00" y1="696.56" x2="92.50" y2="696.56" stroke="#000" stroke-width="1.05" />
<text x="81.80" y="701.26" font-size="13.5" stroke="#000" stroke-width="0.15" text-anchor="end" textLength="15.56" lengthAdjust="spacingAndGlyphs" >80</text>
<line x1="88.00" y1="667.95" x2="92.50" y2="667.95" stroke="#000" stroke-width="1.05" />
<text x="81.80" y="672.65" font-size="13.5" stroke="#000" stroke-width="0.15" text-anchor="end" textLength="23.34" lengthAdjust="spacingAndGlyphs" >100</text>
<line x1="88.00" y1="639.34" x2="92.50" y2="639.34" stroke="#000" stroke-width="1.05" />
<text x="81.80" y="644.04" font-size="13.5" stroke="#000" stroke-width="0.15" text-anchor="end" textLength="23.34" lengthAdjust="spacingAndGlyphs" >120</text>
<line x1="88.00" y1="610.73" x2="92.50" y2="610.73" stroke="#000" stroke-width="1.05" />
<text x="81.80" y="615.43" font-size="13.5" stroke="#000" stroke-width="0.15" text-anchor="end" textLength="23.34" lengthAdjust="spacingAndGlyphs" >140</text>
<line x1="88.00" y1="582.12" x2="92.50" y2="582.12" stroke="#000" stroke-width="1.05" />
<text x="81.80" y="586.82" font-size="13.5" stroke="#000" stroke-width="0.15" text-anchor="end" textLength="23.34" lengthAdjust="spacingAndGlyphs" >160</text>
<line x1="151.20" y1="811.00" x2="151.20" y2="815.50" stroke="#000" stroke-width="1.05" />
<text x="151.20" y="831.10" font-size="13.5" stroke="#000" stroke-width="0.15" text-anchor="middle" textLength="89.70" lengthAdjust="spacingAndGlyphs" >Up-regulation</text>
<line x1="285.60" y1="811.00" x2="285.60" y2="815.50" stroke="#000" stroke-width="1.05" />
<text x="285.60" y="831.10" font-size="13.5" stroke="#000" stroke-width="0.15" text-anchor="middle" textLength="107.60" lengthAdjust="spacingAndGlyphs" >Down-regulation</text>
<text x="218.10" y="849.30" font-size="13.5" stroke="#000" stroke-width="0.15" text-anchor="middle" textLength="131.20" lengthAdjust="spacingAndGlyphs" >Impact by rs968567</text>
<text x="0" y="0" font-size="13" text-anchor="middle" transform="translate(49.00,690.00) rotate(-90)" stroke="#000" stroke-width="0.15" textLength="124.00" lengthAdjust="spacingAndGlyphs">Count of CpG Sites</text>
<text x="127.00" y="588.20" font-size="13.5" stroke="#000" stroke-width="0.15" text-anchor="middle" textLength="23.50" lengthAdjust="spacingAndGlyphs" >154</text>
<text x="174.50" y="595.30" font-size="13.5" stroke="#000" stroke-width="0.15" text-anchor="middle" textLength="23.50" lengthAdjust="spacingAndGlyphs" >149</text>
<text x="261.80" y="652.10" font-size="13.5" stroke="#000" stroke-width="0.15" text-anchor="middle" textLength="23.50" lengthAdjust="spacingAndGlyphs" >109</text>
<text x="308.90" y="645.10" font-size="13.5" stroke="#000" stroke-width="0.15" text-anchor="middle" textLength="23.50" lengthAdjust="spacingAndGlyphs" >114</text>
<rect x="211.3" y="574.8" width="126.1" height="44" rx="2.5" fill="rgba(255,255,255,0.8)" stroke="#d6d6d6" stroke-width="1"/>
<rect x="216.90" y="581.10" width="26.30" height="9.90" fill="rgba(106,90,205,0.4)" />
<rect x="216.90" y="601.00" width="26.30" height="9.90" fill="rgba(143,188,143,0.4)" />
<text x="254.00" y="591.00" font-size="13.5" stroke="#000" stroke-width="0.15" textLength="77.80" lengthAdjust="spacingAndGlyphs" >CD4+ T cell</text>
<text x="254.00" y="610.80" font-size="13.5" stroke="#000" stroke-width="0.15" textLength="63.50" lengthAdjust="spacingAndGlyphs" >Monocyte</text>
<text x="419.10" y="558.60" font-size="20" font-weight="bold" >d</text>
<text x="838.85" y="560.10" font-size="16" stroke="#000" stroke-width="0.15" text-anchor="middle" textLength="614.50" lengthAdjust="spacingAndGlyphs" >Prediction pattern of methven of CD4+ T cell and Monocyte around rs968567</text>
<line x1="838.50" y1="810.90" x2="838.50" y2="568.40" stroke="#a0a0a0" stroke-width="1.6" stroke-dasharray="6.7 3.7"/>
<g>
<rect x="497.18" y="665.52" width="1.85" height="37.88" fill="rgba(0,0,205,0.8)" />
<rect x="518.18" y="642.46" width="1.85" height="60.94" fill="rgba(0,0,205,0.8)" />
<rect x="527.98" y="694.11" width="1.85" height="9.29" fill="rgba(0,0,205,0.8)" />
<rect x="532.98" y="687.85" width="1.85" height="15.55" fill="rgba(0,0,205,0.8)" />
<rect x="534.98" y="660.69" width="1.85" height="42.71" fill="rgba(0,0,205,0.8)" />
<rect x="538.48" y="701.61" width="1.85" height="1.79" fill="rgba(0,0,205,0.8)" />
<rect x="547.18" y="664.09" width="1.85" height="39.31" fill="rgba(0,0,205,0.8)" />
<rect x="550.08" y="702.51" width="1.85" height="0.89" fill="rgba(0,0,205,0.8)" />
<rect x="553.18" y="677.31" width="1.85" height="26.09" fill="rgba(0,0,205,0.8)" />
<rect x="555.38" y="702.51" width="1.85" height="0.89" fill="rgba(0,0,205,0.8)" />
<rect x="560.18" y="701.61" width="1.85" height="1.79" fill="rgba(0,0,205,0.8)" />
<rect x="564.08" y="658.37" width="1.85" height="45.03" fill="rgba(0,0,205,0.8)" />
<rect x="567.08" y="701.61" width="1.85" height="1.79" fill="rgba(0,0,205,0.8)" />
<rect x="572.08" y="656.22" width="1.85" height="47.18" fill="rgba(0,0,205,0.8)" />
<rect x="576.08" y="695.89" width="1.85" height="7.51" fill="rgba(0,0,205,0.8)" />
<rect x="582.88" y="626.20" width="1.85" height="77.20" fill="rgba(0,0,205,0.8)" />
<rect x="585.78" y="641.21" width="1.85" height="62.19" fill="rgba(0,0,205,0.8)" />
<rect x="591.28" y="682.13" width="1.85" height="21.27" fill="rgba(0,0,205,0.8)" />
<rect x="603.18" y="702.51" width="1.85" height="0.89" fill="rgba(0,0,205,0.8)" />
<rect x="608.98" y="651.04" width="1.85" height="52.36" fill="rgba(0,0,205,0.8)" />
<rect x="618.08" y="692.32" width="1.85" height="11.08" fill="rgba(0,0,205,0.8)" />
<rect x="625.08" y="693.04" width="1.85" height="10.36" fill="rgba(0,0,205,0.8)" />
<rect x="638.38" y="689.64" width="1.85" height="13.76" fill="rgba(0,0,205,0.8)" />
<rect x="641.98" y="665.16" width="1.85" height="38.24" fill="rgba(0,0,205,0.8)" />
<rect x="650.98" y="702.51" width="1.85" height="0.89" fill="rgba(0,0,205,0.8)" />
<rect x="653.98" y="624.41" width="1.85" height="78.99" fill="rgba(0,0,205,0.8)" />
<rect x="654.88" y="624.06" width="1.85" height="79.34" fill="rgba(0,0,205,0.8)" />
<rect x="660.88" y="662.12" width="1.85" height="41.28" fill="rgba(0,0,205,0.8)" />
<rect x="665.78" y="628.17" width="1.85" height="75.23" fill="rgba(0,0,205,0.8)" />
<rect x="698.08" y="685.17" width="1.85" height="18.23" fill="rgba(0,0,205,0.8)" />
<rect x="701.98" y="642.11" width="1.85" height="61.29" fill="rgba(0,0,205,0.8)" />
<rect x="707.88" y="646.22" width="1.85" height="57.18" fill="rgba(0,0,205,0.8)" />
<rect x="711.28" y="630.31" width="1.85" height="73.09" fill="rgba(0,0,205,0.8)" />
<rect x="713.08" y="677.49" width="1.85" height="25.91" fill="rgba(0,0,205,0.8)" />
<rect x="719.88" y="673.20" width="1.85" height="30.20" fill="rgba(0,0,205,0.8)" />
<rect x="721.88" y="656.40" width="1.85" height="47.00" fill="rgba(0,0,205,0.8)" />
<rect x="724.88" y="702.51" width="1.85" height="0.89" fill="rgba(0,0,205,0.8)" />
<rect x="737.98" y="674.81" width="1.85" height="28.59" fill="rgba(0,0,205,0.8)" />
<rect x="753.08" y="670.16" width="1.85" height="33.24" fill="rgba(0,0,205,0.8)" />
<rect x="756.08" y="673.91" width="1.85" height="29.49" fill="rgba(0,0,205,0.8)" />
<rect x="763.58" y="691.96" width="1.85" height="11.44" fill="rgba(0,0,205,0.8)" />
<rect x="774.58" y="702.51" width="1.85" height="0.89" fill="rgba(0,0,205,0.8)" />
<rect x="781.08" y="693.93" width="1.85" height="9.47" fill="rgba(0,0,205,0.8)" />
<rect x="783.88" y="702.51" width="1.85" height="0.89" fill="rgba(0,0,205,0.8)" />
<rect x="788.88" y="678.92" width="1.85" height="24.48" fill="rgba(0,0,205,0.8)" />
<rect x="790.68" y="600.29" width="1.85" height="103.11" fill="rgba(0,0,205,0.8)" />
<rect x="794.88" y="640.14" width="1.85" height="63.26" fill="rgba(0,0,205,0.8)" />
<rect x="793.88" y="656.94" width="1.85" height="46.46" fill="rgba(0,0,205,0.8)" />
<rect x="799.88" y="693.93" width="1.85" height="9.47" fill="rgba(0,0,205,0.8)" />
<rect x="801.98" y="670.16" width="1.85" height="33.24" fill="rgba(0,0,205,0.8)" />
<rect x="809.98" y="702.51" width="1.85" height="0.89" fill="rgba(0,0,205,0.8)" />
<rect x="824.78" y="684.28" width="1.85" height="19.12" fill="rgba(0,0,205,0.8)" />
<rect x="833.58" y="683.74" width="1.85" height="19.66" fill="rgba(0,0,205,0.8)" />
<rect x="833.58" y="684.28" width="1.85" height="19.12" fill="rgba(0,0,205,0.8)" />
<rect x="834.78" y="674.09" width="1.85" height="29.31" fill="rgba(0,0,205,0.8)" />
<rect x="836.58" y="669.27" width="1.85" height="34.13" fill="rgba(0,0,205,0.8)" />
<rect x="838.08" y="648.18" width="1.85" height="55.22" fill="rgba(0,0,205,0.8)" />
<rect x="841.48" y="681.24" width="1.85" height="22.16" fill="rgba(0,0,205,0.8)" />
<rect x="845.38" y="693.21" width="1.85" height="10.19" fill="rgba(0,0,205,0.8)" />
<rect x="847.18" y="673.20" width="1.85" height="30.20" fill="rgba(0,0,205,0.8)" />
<rect x="848.68" y="702.51" width="1.85" height="0.89" fill="rgba(0,0,205,0.8)" />
<rect x="856.98" y="702.51" width="1.85" height="0.89" fill="rgba(0,0,205,0.8)" />
<rect x="859.68" y="696.25" width="1.85" height="7.15" fill="rgba(0,0,205,0.8)" />
<rect x="861.48" y="702.51" width="1.85" height="0.89" fill="rgba(0,0,205,0.8)" />
<rect x="880.78" y="685.17" width="1.85" height="18.23" fill="rgba(0,0,205,0.8)" />
<rect x="885.88" y="673.74" width="1.85" height="29.66" fill="rgba(0,0,205,0.8)" />
<rect x="898.68" y="702.51" width="1.85" height="0.89" fill="rgba(0,0,205,0.8)" />
<rect x="908.58" y="678.20" width="1.85" height="25.20" fill="rgba(0,0,205,0.8)" />
<rect x="920.98" y="682.31" width="1.85" height="21.09" fill="rgba(0,0,205,0.8)" />
<rect x="931.18" y="702.51" width="1.85" height="0.89" fill="rgba(0,0,205,0.8)" />
<rect x="944.28" y="702.51" width="1.85" height="0.89" fill="rgba(0,0,205,0.8)" />
<rect x="952.08" y="686.96" width="1.85" height="16.44" fill="rgba(0,0,205,0.8)" />
<rect x="958.18" y="671.23" width="1.85" height="32.17" fill="rgba(0,0,205,0.8)" />
<rect x="965.08" y="701.26" width="1.85" height="2.14" fill="rgba(0,0,205,0.8)" />
<rect x="974.08" y="702.51" width="1.85" height="0.89" fill="rgba(0,0,205,0.8)" />
<rect x="986.98" y="686.96" width="1.85" height="16.44" fill="rgba(0,0,205,0.8)" />
<rect x="992.78" y="685.17" width="1.85" height="18.23" fill="rgba(0,0,205,0.8)" />
<rect x="998.88" y="693.93" width="1.85" height="9.47" fill="rgba(0,0,205,0.8)" />
<rect x="1003.38" y="702.51" width="1.85" height="0.89" fill="rgba(0,0,205,0.8)" />
<rect x="1014.88" y="669.09" width="1.85" height="34.31" fill="rgba(0,0,205,0.8)" />
<rect x="1018.88" y="675.70" width="1.85" height="27.70" fill="rgba(0,0,205,0.8)" />
<rect x="1021.88" y="689.10" width="1.85" height="14.30" fill="rgba(0,0,205,0.8)" />
<rect x="1023.67" y="702.51" width="1.85" height="0.89" fill="rgba(0,0,205,0.8)" />
<rect x="1042.98" y="678.92" width="1.85" height="24.48" fill="rgba(0,0,205,0.8)" />
<rect x="1046.28" y="634.24" width="1.85" height="69.16" fill="rgba(0,0,205,0.8)" />
<rect x="1054.08" y="693.21" width="1.85" height="10.19" fill="rgba(0,0,205,0.8)" />
<rect x="1062.08" y="686.96" width="1.85" height="16.44" fill="rgba(0,0,205,0.8)" />
<rect x="1066.17" y="680.88" width="1.85" height="22.52" fill="rgba(0,0,205,0.8)" />
<rect x="1074.88" y="701.61" width="1.85" height="1.79" fill="rgba(0,0,205,0.8)" />
<rect x="1078.98" y="690.18" width="1.85" height="13.22" fill="rgba(0,0,205,0.8)" />
<rect x="1090.98" y="667.30" width="1.85" height="36.10" fill="rgba(0,0,205,0.8)" />
<rect x="1093.28" y="658.19" width="1.85" height="45.21" fill="rgba(0,0,205,0.8)" />
<rect x="1100.08" y="648.36" width="1.85" height="55.04" fill="rgba(0,0,205,0.8)" />
<rect x="1112.17" y="648.36" width="1.85" height="55.04" fill="rgba(0,0,205,0.8)" />
<rect x="1140.08" y="680.88" width="1.85" height="22.52" fill="rgba(0,0,205,0.8)" />
<rect x="1150.98" y="669.09" width="1.85" height="34.31" fill="rgba(0,0,205,0.8)" />
<rect x="1157.98" y="689.10" width="1.85" height="14.30" fill="rgba(0,0,205,0.8)" />
<rect x="1159.17" y="683.21" width="1.85" height="20.19" fill="rgba(0,0,205,0.8)" />
<rect x="1161.48" y="667.30" width="1.85" height="36.10" fill="rgba(0,0,205,0.8)" />
<rect x="1168.98" y="678.20" width="1.85" height="25.20" fill="rgba(0,0,205,0.8)" />
<rect x="1173.08" y="672.13" width="1.85" height="31.27" fill="rgba(0,0,205,0.8)" />
<rect x="1179.08" y="668.37" width="1.85" height="35.03" fill="rgba(0,0,205,0.8)" />
<rect x="1185.08" y="659.98" width="1.85" height="43.42" fill="rgba(0,0,205,0.8)" />
<rect x="489.07" y="703.40" width="1.85" height="1.07" fill="rgba(0,0,205,0.8)" />
<rect x="509.07" y="703.40" width="1.85" height="46.10" fill="rgba(0,0,205,0.8)" />
<rect x="528.68" y="703.40" width="1.85" height="18.58" fill="rgba(0,0,205,0.8)" />
<rect x="533.38" y="703.40" width="1.85" height="15.01" fill="rgba(0,0,205,0.8)" />
<rect x="536.48" y="703.40" width="1.85" height="3.57" fill="rgba(0,0,205,0.8)" />
<rect x="539.08" y="703.40" width="1.85" height="39.14" fill="rgba(0,0,205,0.8)" />
<rect x="549.98" y="703.40" width="1.85" height="5.72" fill="rgba(0,0,205,0.8)" />
<rect x="555.08" y="703.40" width="1.85" height="17.16" fill="rgba(0,0,205,0.8)" />
<rect x="564.08" y="703.40" width="1.85" height="16.44" fill="rgba(0,0,205,0.8)" />
<rect x="565.08" y="703.40" width="1.85" height="26.27" fill="rgba(0,0,205,0.8)" />
<rect x="573.78" y="703.40" width="1.85" height="45.57" fill="rgba(0,0,205,0.8)" />
<rect x="574.78" y="703.40" width="1.85" height="58.08" fill="rgba(0,0,205,0.8)" />
<rect x="583.68" y="703.40" width="1.85" height="5.00" fill="rgba(0,0,205,0.8)" />
<rect x="603.08" y="703.40" width="1.85" height="16.44" fill="rgba(0,0,205,0.8)" />
<rect x="617.98" y="703.40" width="1.85" height="10.54" fill="rgba(0,0,205,0.8)" />
<rect x="625.08" y="703.40" width="1.85" height="0.89" fill="rgba(0,0,205,0.8)" />
<rect x="650.98" y="703.40" width="1.85" height="46.82" fill="rgba(0,0,205,0.8)" />
<rect x="664.28" y="703.40" width="1.85" height="17.16" fill="rgba(0,0,205,0.8)" />
<rect x="702.68" y="703.40" width="1.85" height="29.13" fill="rgba(0,0,205,0.8)" />
<rect x="706.98" y="703.40" width="1.85" height="73.09" fill="rgba(0,0,205,0.8)" />
<rect x="708.68" y="703.40" width="1.85" height="58.08" fill="rgba(0,0,205,0.8)" />
<rect x="724.98" y="703.40" width="1.85" height="30.92" fill="rgba(0,0,205,0.8)" />
<rect x="763.18" y="703.40" width="1.85" height="14.30" fill="rgba(0,0,205,0.8)" />
<rect x="763.88" y="703.40" width="1.85" height="23.23" fill="rgba(0,0,205,0.8)" />
<rect x="774.98" y="703.40" width="1.85" height="37.35" fill="rgba(0,0,205,0.8)" />
<rect x="784.08" y="703.40" width="1.85" height="16.08" fill="rgba(0,0,205,0.8)" />
<rect x="791.88" y="703.40" width="1.85" height="41.10" fill="rgba(0,0,205,0.8)" />
<rect x="793.68" y="703.40" width="1.85" height="43.07" fill="rgba(0,0,205,0.8)" />
<rect x="797.68" y="703.40" width="1.85" height="48.25" fill="rgba(0,0,205,0.8)" />
<rect x="809.68" y="703.40" width="1.85" height="35.03" fill="rgba(0,0,205,0.8)" />
<rect x="833.38" y="703.40" width="1.85" height="5.18" fill="rgba(0,0,205,0.8)" />
<rect x="834.08" y="703.40" width="1.85" height="5.18" fill="rgba(0,0,205,0.8)" />
<rect x="836.58" y="703.40" width="1.85" height="4.47" fill="rgba(0,0,205,0.8)" />
<rect x="839.68" y="703.40" width="1.85" height="46.82" fill="rgba(0,0,205,0.8)" />
<rect x="840.68" y="703.40" width="1.85" height="48.96" fill="rgba(0,0,205,0.8)" />
<rect x="848.88" y="703.40" width="1.85" height="58.08" fill="rgba(0,0,205,0.8)" />
<rect x="856.68" y="703.40" width="1.85" height="7.86" fill="rgba(0,0,205,0.8)" />
<rect x="860.98" y="703.40" width="1.85" height="43.96" fill="rgba(0,0,205,0.8)" />
<rect x="898.48" y="703.40" width="1.85" height="10.01" fill="rgba(0,0,205,0.8)" />
<rect x="930.88" y="703.40" width="1.85" height="15.01" fill="rgba(0,0,205,0.8)" />
<rect x="932.98" y="703.40" width="1.85" height="46.10" fill="rgba(0,0,205,0.8)" />
<rect x="943.88" y="703.40" width="1.85" height="0.89" fill="rgba(0,0,205,0.8)" />
<rect x="972.98" y="703.40" width="1.85" height="38.42" fill="rgba(0,0,205,0.8)" />
<rect x="1003.08" y="703.40" width="1.85" height="3.04" fill="rgba(0,0,205,0.8)" />
<rect x="1023.98" y="703.40" width="1.85" height="36.28" fill="rgba(0,0,205,0.8)" />
<rect x="1029.08" y="703.40" width="1.85" height="42.17" fill="rgba(0,0,205,0.8)" />
<rect x="1032.98" y="703.40" width="1.85" height="33.95" fill="rgba(0,0,205,0.8)" />
<rect x="1053.88" y="703.40" width="1.85" height="6.25" fill="rgba(0,0,205,0.8)" />
<rect x="1059.48" y="703.40" width="1.85" height="40.03" fill="rgba(0,0,205,0.8)" />
<rect x="1063.88" y="703.40" width="1.85" height="29.49" fill="rgba(0,0,205,0.8)" />
<rect x="1065.38" y="703.40" width="1.85" height="31.81" fill="rgba(0,0,205,0.8)" />
<rect x="1066.88" y="703.40" width="1.85" height="33.24" fill="rgba(0,0,205,0.8)" />
<rect x="1088.17" y="703.40" width="1.85" height="21.98" fill="rgba(0,0,205,0.8)" />
<rect x="1091.88" y="703.40" width="1.85" height="4.82" fill="rgba(0,0,205,0.8)" />
<rect x="1094.58" y="703.40" width="1.85" height="9.29" fill="rgba(0,0,205,0.8)" />
<rect x="1145.48" y="703.40" width="1.85" height="4.11" fill="rgba(0,0,205,0.8)" />
<rect x="1156.98" y="703.40" width="1.85" height="38.06" fill="rgba(0,0,205,0.8)" />
<rect x="1168.17" y="703.40" width="1.85" height="20.55" fill="rgba(0,0,205,0.8)" />
<rect x="1172.78" y="703.40" width="1.85" height="3.40" fill="rgba(0,0,205,0.8)" />
<rect x="499.07" y="681.42" width="1.85" height="21.98" fill="rgba(240,128,128,0.8)" />
<rect x="510.68" y="702.51" width="1.85" height="0.89" fill="rgba(240,128,128,0.8)" />
<rect x="520.18" y="622.09" width="1.85" height="81.31" fill="rgba(240,128,128,0.8)" />
<rect x="529.78" y="702.51" width="1.85" height="0.89" fill="rgba(240,128,128,0.8)" />
<rect x="534.38" y="683.74" width="1.85" height="19.66" fill="rgba(240,128,128,0.8)" />
<rect x="536.38" y="655.33" width="1.85" height="48.07" fill="rgba(240,128,128,0.8)" />
<rect x="537.28" y="689.10" width="1.85" height="14.30" fill="rgba(240,128,128,0.8)" />
<rect x="538.48" y="695.89" width="1.85" height="7.51" fill="rgba(240,128,128,0.8)" />
<rect x="541.08" y="702.51" width="1.85" height="0.89" fill="rgba(240,128,128,0.8)" />
<rect x="548.58" y="659.26" width="1.85" height="44.14" fill="rgba(240,128,128,0.8)" />
<rect x="554.38" y="696.97" width="1.85" height="6.43" fill="rgba(240,128,128,0.8)" />
<rect x="558.68" y="686.96" width="1.85" height="16.44" fill="rgba(240,128,128,0.8)" />
<rect x="562.08" y="669.09" width="1.85" height="34.31" fill="rgba(240,128,128,0.8)" />
<rect x="565.98" y="664.09" width="1.85" height="39.31" fill="rgba(240,128,128,0.8)" />
<rect x="573.88" y="664.09" width="1.85" height="39.31" fill="rgba(240,128,128,0.8)" />
<rect x="575.38" y="664.09" width="1.85" height="39.31" fill="rgba(240,128,128,0.8)" />
<rect x="577.28" y="702.51" width="1.85" height="0.89" fill="rgba(240,128,128,0.8)" />
<rect x="584.38" y="634.96" width="1.85" height="68.44" fill="rgba(240,128,128,0.8)" />
<rect x="586.98" y="633.35" width="1.85" height="70.05" fill="rgba(240,128,128,0.8)" />
<rect x="587.98" y="696.25" width="1.85" height="7.15" fill="rgba(240,128,128,0.8)" />
<rect x="593.08" y="664.09" width="1.85" height="39.31" fill="rgba(240,128,128,0.8)" />
<rect x="605.08" y="702.51" width="1.85" height="0.89" fill="rgba(240,128,128,0.8)" />
<rect x="610.38" y="662.66" width="1.85" height="40.74" fill="rgba(240,128,128,0.8)" />
<rect x="619.78" y="702.51" width="1.85" height="0.89" fill="rgba(240,128,128,0.8)" />
<rect x="626.78" y="683.74" width="1.85" height="19.66" fill="rgba(240,128,128,0.8)" />
<rect x="627.98" y="681.06" width="1.85" height="22.34" fill="rgba(240,128,128,0.8)" />
<rect x="640.08" y="683.74" width="1.85" height="19.66" fill="rgba(240,128,128,0.8)" />
<rect x="643.88" y="681.06" width="1.85" height="22.34" fill="rgba(240,128,128,0.8)" />
<rect x="656.08" y="633.35" width="1.85" height="70.05" fill="rgba(240,128,128,0.8)" />
<rect x="658.38" y="664.09" width="1.85" height="39.31" fill="rgba(240,128,128,0.8)" />
<rect x="657.88" y="664.26" width="1.85" height="39.14" fill="rgba(240,128,128,0.8)" />
<rect x="662.68" y="655.33" width="1.85" height="48.07" fill="rgba(240,128,128,0.8)" />
<rect x="667.18" y="636.03" width="1.85" height="67.37" fill="rgba(240,128,128,0.8)" />
<rect x="699.98" y="680.88" width="1.85" height="22.52" fill="rgba(240,128,128,0.8)" />
<rect x="704.08" y="678.20" width="1.85" height="25.20" fill="rgba(240,128,128,0.8)" />
<rect x="709.78" y="640.14" width="1.85" height="63.26" fill="rgba(240,128,128,0.8)" />
<rect x="713.08" y="639.78" width="1.85" height="63.62" fill="rgba(240,128,128,0.8)" />
<rect x="714.28" y="688.03" width="1.85" height="15.37" fill="rgba(240,128,128,0.8)" />
<rect x="723.08" y="666.23" width="1.85" height="37.17" fill="rgba(240,128,128,0.8)" />
<rect x="722.08" y="681.24" width="1.85" height="22.16" fill="rgba(240,128,128,0.8)" />
<rect x="739.98" y="660.87" width="1.85" height="42.53" fill="rgba(240,128,128,0.8)" />
<rect x="754.28" y="693.93" width="1.85" height="9.47" fill="rgba(240,128,128,0.8)" />
<rect x="758.08" y="670.16" width="1.85" height="33.24" fill="rgba(240,128,128,0.8)" />
<rect x="765.58" y="702.51" width="1.85" height="0.89" fill="rgba(240,128,128,0.8)" />
<rect x="782.88" y="686.07" width="1.85" height="17.33" fill="rgba(240,128,128,0.8)" />
<rect x="783.88" y="702.51" width="1.85" height="0.89" fill="rgba(240,128,128,0.8)" />
<rect x="790.68" y="669.98" width="1.85" height="33.42" fill="rgba(240,128,128,0.8)" />
<rect x="792.18" y="579.74" width="1.85" height="123.66" fill="rgba(240,128,128,0.8)" />
<rect x="796.38" y="650.33" width="1.85" height="53.07" fill="rgba(240,128,128,0.8)" />
<rect x="797.88" y="657.12" width="1.85" height="46.28" fill="rgba(240,128,128,0.8)" />
<rect x="803.98" y="666.95" width="1.85" height="36.45" fill="rgba(240,128,128,0.8)" />
<rect x="810.68" y="702.51" width="1.85" height="0.89" fill="rgba(240,128,128,0.8)" />
<rect x="826.28" y="673.20" width="1.85" height="30.20" fill="rgba(240,128,128,0.8)" />
<rect x="835.88" y="676.24" width="1.85" height="27.16" fill="rgba(240,128,128,0.8)" />
<rect x="839.88" y="660.15" width="1.85" height="43.25" fill="rgba(240,128,128,0.8)" />
<rect x="842.98" y="676.24" width="1.85" height="27.16" fill="rgba(240,128,128,0.8)" />
<rect x="848.38" y="685.17" width="1.85" height="18.23" fill="rgba(240,128,128,0.8)" />
<rect x="850.18" y="702.51" width="1.85" height="0.89" fill="rgba(240,128,128,0.8)" />
<rect x="882.08" y="667.30" width="1.85" height="36.10" fill="rgba(240,128,128,0.8)" />
<rect x="883.58" y="692.86" width="1.85" height="10.54" fill="rgba(240,128,128,0.8)" />
<rect x="887.08" y="665.16" width="1.85" height="38.24" fill="rgba(240,128,128,0.8)" />
<rect x="899.88" y="702.51" width="1.85" height="0.89" fill="rgba(240,128,128,0.8)" />
<rect x="910.08" y="683.21" width="1.85" height="20.19" fill="rgba(240,128,128,0.8)" />
<rect x="923.18" y="684.28" width="1.85" height="19.12" fill="rgba(240,128,128,0.8)" />
<rect x="934.48" y="702.51" width="1.85" height="0.89" fill="rgba(240,128,128,0.8)" />
<rect x="945.48" y="702.51" width="1.85" height="0.89" fill="rgba(240,128,128,0.8)" />
<rect x="954.08" y="681.24" width="1.85" height="22.16" fill="rgba(240,128,128,0.8)" />
<rect x="960.08" y="689.10" width="1.85" height="14.30" fill="rgba(240,128,128,0.8)" />
<rect x="966.88" y="685.17" width="1.85" height="18.23" fill="rgba(240,128,128,0.8)" />
<rect x="974.88" y="702.51" width="1.85" height="0.89" fill="rgba(240,128,128,0.8)" />
<rect x="988.78" y="683.21" width="1.85" height="20.19" fill="rgba(240,128,128,0.8)" />
<rect x="994.28" y="688.03" width="1.85" height="15.37" fill="rgba(240,128,128,0.8)" />
<rect x="1000.38" y="684.28" width="1.85" height="19.12" fill="rgba(240,128,128,0.8)" />
<rect x="1016.88" y="649.25" width="1.85" height="54.15" fill="rgba(240,128,128,0.8)" />
<rect x="1020.98" y="652.29" width="1.85" height="51.11" fill="rgba(240,128,128,0.8)" />
<rect x="1022.88" y="665.16" width="1.85" height="38.24" fill="rgba(240,128,128,0.8)" />
<rect x="1044.78" y="688.03" width="1.85" height="15.37" fill="rgba(240,128,128,0.8)" />
<rect x="1048.08" y="637.10" width="1.85" height="66.30" fill="rgba(240,128,128,0.8)" />
<rect x="1056.08" y="678.92" width="1.85" height="24.48" fill="rgba(240,128,128,0.8)" />
<rect x="1063.88" y="653.36" width="1.85" height="50.04" fill="rgba(240,128,128,0.8)" />
<rect x="1068.08" y="668.73" width="1.85" height="34.67" fill="rgba(240,128,128,0.8)" />
<rect x="1080.88" y="684.99" width="1.85" height="18.41" fill="rgba(240,128,128,0.8)" />
<rect x="1092.98" y="661.23" width="1.85" height="42.17" fill="rgba(240,128,128,0.8)" />
<rect x="1095.17" y="645.14" width="1.85" height="58.26" fill="rgba(240,128,128,0.8)" />
<rect x="1101.58" y="660.15" width="1.85" height="43.25" fill="rgba(240,128,128,0.8)" />
<rect x="1114.08" y="648.36" width="1.85" height="55.04" fill="rgba(240,128,128,0.8)" />
<rect x="1141.88" y="662.12" width="1.85" height="41.28" fill="rgba(240,128,128,0.8)" />
<rect x="1152.88" y="663.19" width="1.85" height="40.21" fill="rgba(240,128,128,0.8)" />
<rect x="1159.98" y="656.40" width="1.85" height="47.00" fill="rgba(240,128,128,0.8)" />
<rect x="1162.58" y="678.20" width="1.85" height="25.20" fill="rgba(240,128,128,0.8)" />
<rect x="1175.08" y="666.95" width="1.85" height="36.45" fill="rgba(240,128,128,0.8)" />
<rect x="1180.58" y="670.16" width="1.85" height="33.24" fill="rgba(240,128,128,0.8)" />
<rect x="1186.67" y="666.95" width="1.85" height="36.45" fill="rgba(240,128,128,0.8)" />
<rect x="491.07" y="703.40" width="1.85" height="2.14" fill="rgba(240,128,128,0.8)" />
<rect x="511.07" y="703.40" width="1.85" height="31.27" fill="rgba(240,128,128,0.8)" />
<rect x="531.08" y="703.40" width="1.85" height="36.28" fill="rgba(240,128,128,0.8)" />
<rect x="540.98" y="703.40" width="1.85" height="40.21" fill="rgba(240,128,128,0.8)" />
<rect x="551.88" y="703.40" width="1.85" height="24.84" fill="rgba(240,128,128,0.8)" />
<rect x="556.78" y="703.40" width="1.85" height="7.15" fill="rgba(240,128,128,0.8)" />
<rect x="566.98" y="703.40" width="1.85" height="17.69" fill="rgba(240,128,128,0.8)" />
<rect x="567.98" y="703.40" width="1.85" height="31.27" fill="rgba(240,128,128,0.8)" />
<rect x="576.88" y="703.40" width="1.85" height="46.82" fill="rgba(240,128,128,0.8)" />
<rect x="585.38" y="703.40" width="1.85" height="0.89" fill="rgba(240,128,128,0.8)" />
<rect x="604.88" y="703.40" width="1.85" height="36.28" fill="rgba(240,128,128,0.8)" />
<rect x="605.88" y="703.40" width="1.85" height="42.17" fill="rgba(240,128,128,0.8)" />
<rect x="619.78" y="703.40" width="1.85" height="28.95" fill="rgba(240,128,128,0.8)" />
<rect x="642.08" y="703.40" width="1.85" height="5.00" fill="rgba(240,128,128,0.8)" />
<rect x="652.98" y="703.40" width="1.85" height="96.32" fill="rgba(240,128,128,0.8)" />
<rect x="656.98" y="703.40" width="1.85" height="1.79" fill="rgba(240,128,128,0.8)" />
<rect x="656.18" y="703.40" width="1.85" height="2.32" fill="rgba(240,128,128,0.8)" />
<rect x="660.88" y="703.40" width="1.85" height="13.58" fill="rgba(240,128,128,0.8)" />
<rect x="666.08" y="703.40" width="1.85" height="31.99" fill="rgba(240,128,128,0.8)" />
<rect x="703.98" y="703.40" width="1.85" height="49.32" fill="rgba(240,128,128,0.8)" />
<rect x="710.48" y="703.40" width="1.85" height="50.04" fill="rgba(240,128,128,0.8)" />
<rect x="709.38" y="703.40" width="1.85" height="41.10" fill="rgba(240,128,128,0.8)" />
<rect x="766.08" y="703.40" width="1.85" height="37.35" fill="rgba(240,128,128,0.8)" />
<rect x="776.68" y="703.40" width="1.85" height="51.11" fill="rgba(240,128,128,0.8)" />
<rect x="785.88" y="703.40" width="1.85" height="22.34" fill="rgba(240,128,128,0.8)" />
<rect x="794.78" y="703.40" width="1.85" height="43.07" fill="rgba(240,128,128,0.8)" />
<rect x="799.08" y="703.40" width="1.85" height="62.01" fill="rgba(240,128,128,0.8)" />
<rect x="800.48" y="703.40" width="1.85" height="17.87" fill="rgba(240,128,128,0.8)" />
<rect x="802.18" y="703.40" width="1.85" height="7.86" fill="rgba(240,128,128,0.8)" />
<rect x="810.98" y="703.40" width="1.85" height="31.99" fill="rgba(240,128,128,0.8)" />
<rect x="825.58" y="703.40" width="1.85" height="0.89" fill="rgba(240,128,128,0.8)" />
<rect x="835.48" y="703.40" width="1.85" height="12.87" fill="rgba(240,128,128,0.8)" />
<rect x="837.88" y="703.40" width="1.85" height="16.44" fill="rgba(240,128,128,0.8)" />
<rect x="841.58" y="703.40" width="1.85" height="56.65" fill="rgba(240,128,128,0.8)" />
<rect x="842.98" y="703.40" width="1.85" height="41.10" fill="rgba(240,128,128,0.8)" />
<rect x="850.58" y="703.40" width="1.85" height="65.23" fill="rgba(240,128,128,0.8)" />
<rect x="858.18" y="703.40" width="1.85" height="12.87" fill="rgba(240,128,128,0.8)" />
<rect x="862.38" y="703.40" width="1.85" height="53.25" fill="rgba(240,128,128,0.8)" />
<rect x="899.98" y="703.40" width="1.85" height="5.72" fill="rgba(240,128,128,0.8)" />
<rect x="933.98" y="703.40" width="1.85" height="40.39" fill="rgba(240,128,128,0.8)" />
<rect x="945.98" y="703.40" width="1.85" height="3.75" fill="rgba(240,128,128,0.8)" />
<rect x="959.08" y="703.40" width="1.85" height="10.01" fill="rgba(240,128,128,0.8)" />
<rect x="975.08" y="703.40" width="1.85" height="39.67" fill="rgba(240,128,128,0.8)" />
<rect x="1004.78" y="703.40" width="1.85" height="6.79" fill="rgba(240,128,128,0.8)" />
<rect x="1026.08" y="703.40" width="1.85" height="42.89" fill="rgba(240,128,128,0.8)" />
<rect x="1027.58" y="703.40" width="1.85" height="47.18" fill="rgba(240,128,128,0.8)" />
<rect x="1030.98" y="703.40" width="1.85" height="47.36" fill="rgba(240,128,128,0.8)" />
<rect x="1035.08" y="703.40" width="1.85" height="48.25" fill="rgba(240,128,128,0.8)" />
<rect x="1060.98" y="703.40" width="1.85" height="27.34" fill="rgba(240,128,128,0.8)" />
<rect x="1069.48" y="703.40" width="1.85" height="24.30" fill="rgba(240,128,128,0.8)" />
<rect x="1070.98" y="703.40" width="1.85" height="33.95" fill="rgba(240,128,128,0.8)" />
<rect x="1076.98" y="703.40" width="1.85" height="12.33" fill="rgba(240,128,128,0.8)" />
<rect x="1089.78" y="703.40" width="1.85" height="7.15" fill="rgba(240,128,128,0.8)" />
<rect x="1146.98" y="703.40" width="1.85" height="2.50" fill="rgba(240,128,128,0.8)" />
<rect x="1158.58" y="703.40" width="1.85" height="11.62" fill="rgba(240,128,128,0.8)" />
<rect x="1164.17" y="703.40" width="1.85" height="16.08" fill="rgba(240,128,128,0.8)" />
<rect x="1169.38" y="703.40" width="1.85" height="36.28" fill="rgba(240,128,128,0.8)" />
<rect x="1170.88" y="703.40" width="1.85" height="26.45" fill="rgba(240,128,128,0.8)" />
<rect x="1175.08" y="703.40" width="1.85" height="4.11" fill="rgba(240,128,128,0.8)" />
</g>
<rect x="454.7" y="568.4" width="769.0999999999999" height="242.5" fill="none" stroke="#000" stroke-width="1.05"/>
<line x1="450.20" y1="810.62" x2="454.70" y2="810.62" stroke="#000" stroke-width="1.05" />
<text x="444.40" y="815.32" font-size="13.5" stroke="#000" stroke-width="0.15" text-anchor="end" textLength="17.00" lengthAdjust="spacingAndGlyphs" >−6</text>
<line x1="450.20" y1="774.88" x2="454.70" y2="774.88" stroke="#000" stroke-width="1.05" />
<text x="444.40" y="779.58" font-size="13.5" stroke="#000" stroke-width="0.15" text-anchor="end" textLength="17.00" lengthAdjust="spacingAndGlyphs" >−4</text>
<line x1="450.20" y1="739.14" x2="454.70" y2="739.14" stroke="#000" stroke-width="1.05" />
<text x="444.40" y="743.84" font-size="13.5" stroke="#000" stroke-width="0.15" text-anchor="end" textLength="17.00" lengthAdjust="spacingAndGlyphs" >−2</text>
<line x1="450.20" y1="703.40" x2="454.70" y2="703.40" stroke="#000" stroke-width="1.05" />
<text x="444.40" y="708.10" font-size="13.5" stroke="#000" stroke-width="0.15" text-anchor="end" textLength="7.78" lengthAdjust="spacingAndGlyphs" >0</text>
<line x1="450.20" y1="667.66" x2="454.70" y2="667.66" stroke="#000" stroke-width="1.05" />
<text x="444.40" y="672.36" font-size="13.5" stroke="#000" stroke-width="0.15" text-anchor="end" textLength="7.78" lengthAdjust="spacingAndGlyphs" >2</text>
<line x1="450.20" y1="631.92" x2="454.70" y2="631.92" stroke="#000" stroke-width="1.05" />
<text x="444.40" y="636.62" font-size="13.5" stroke="#000" stroke-width="0.15" text-anchor="end" textLength="7.78" lengthAdjust="spacingAndGlyphs" >4</text>
<line x1="450.20" y1="596.18" x2="454.70" y2="596.18" stroke="#000" stroke-width="1.05" />
<text x="444.40" y="600.88" font-size="13.5" stroke="#000" stroke-width="0.15" text-anchor="end" textLength="7.78" lengthAdjust="spacingAndGlyphs" >6</text>
<line x1="478.70" y1="810.90" x2="478.70" y2="815.40" stroke="#000" stroke-width="1.05" />
<text x="478.70" y="830.80" font-size="13.5" stroke="#000" stroke-width="0.15" text-anchor="middle" textLength="65.50" lengthAdjust="spacingAndGlyphs" >61495563</text>
<line x1="658.70" y1="810.90" x2="658.70" y2="815.40" stroke="#000" stroke-width="1.05" />
<text x="658.70" y="830.80" font-size="13.5" stroke="#000" stroke-width="0.15" text-anchor="middle" textLength="65.50" lengthAdjust="spacingAndGlyphs" >61545563</text>
<line x1="838.60" y1="810.90" x2="838.60" y2="815.40" stroke="#000" stroke-width="1.05" />
<text x="838.60" y="830.80" font-size="13.5" stroke="#000" stroke-width="0.15" text-anchor="middle" textLength="65.50" lengthAdjust="spacingAndGlyphs" >61595564</text>
<line x1="1018.60" y1="810.90" x2="1018.60" y2="815.40" stroke="#000" stroke-width="1.05" />
<text x="1018.60" y="830.80" font-size="13.5" stroke="#000" stroke-width="0.15" text-anchor="middle" textLength="65.50" lengthAdjust="spacingAndGlyphs" >61745564</text>
<line x1="1198.50" y1="810.90" x2="1198.50" y2="815.40" stroke="#000" stroke-width="1.05" />
<text x="1198.50" y="830.80" font-size="13.5" stroke="#000" stroke-width="0.15" text-anchor="middle" textLength="65.50" lengthAdjust="spacingAndGlyphs" >61695564</text>
<text x="839.05" y="849.10" font-size="13.5" stroke="#000" stroke-width="0.15" text-anchor="middle" textLength="152.90" lengthAdjust="spacingAndGlyphs" >DNA Sequence Position</text>
<text x="0" y="0" font-size="13" text-anchor="middle" transform="translate(417.00,689.60) rotate(-90)" stroke="#000" stroke-width="0.15" textLength="100.20" lengthAdjust="spacingAndGlyphs">Predicted slope</text>
<rect x="1091.2" y="575" width="125.8" height="63.8" rx="2.5" fill="rgba(255,255,255,0.8)" stroke="#d6d6d6" stroke-width="1"/>
<line x1="1095.90" y1="586.00" x2="1123.10" y2="586.00" stroke="#a0a0a0" stroke-width="1.6" stroke-dasharray="6.8 3.7"/>
<rect x="1095.90" y="601.40" width="27.20" height="9.30" fill="rgba(0,0,205,0.72)" />
<rect x="1095.90" y="621.40" width="27.20" height="9.20" fill="rgba(240,128,128,0.72)" />
<text x="1134.10" y="590.40" font-size="13.5" stroke="#000" stroke-width="0.15" textLength="61.10" lengthAdjust="spacingAndGlyphs" >rs968567</text>
<text x="1134.10" y="610.50" font-size="13.5" stroke="#000" stroke-width="0.15" textLength="76.40" lengthAdjust="spacingAndGlyphs" >CD4+ T cell</text>
<text x="1134.10" y="630.20" font-size="13.5" stroke="#000" stroke-width="0.15" textLength="63.10" lengthAdjust="spacingAndGlyphs" >Monocyte</text>
</svg></body></html>
